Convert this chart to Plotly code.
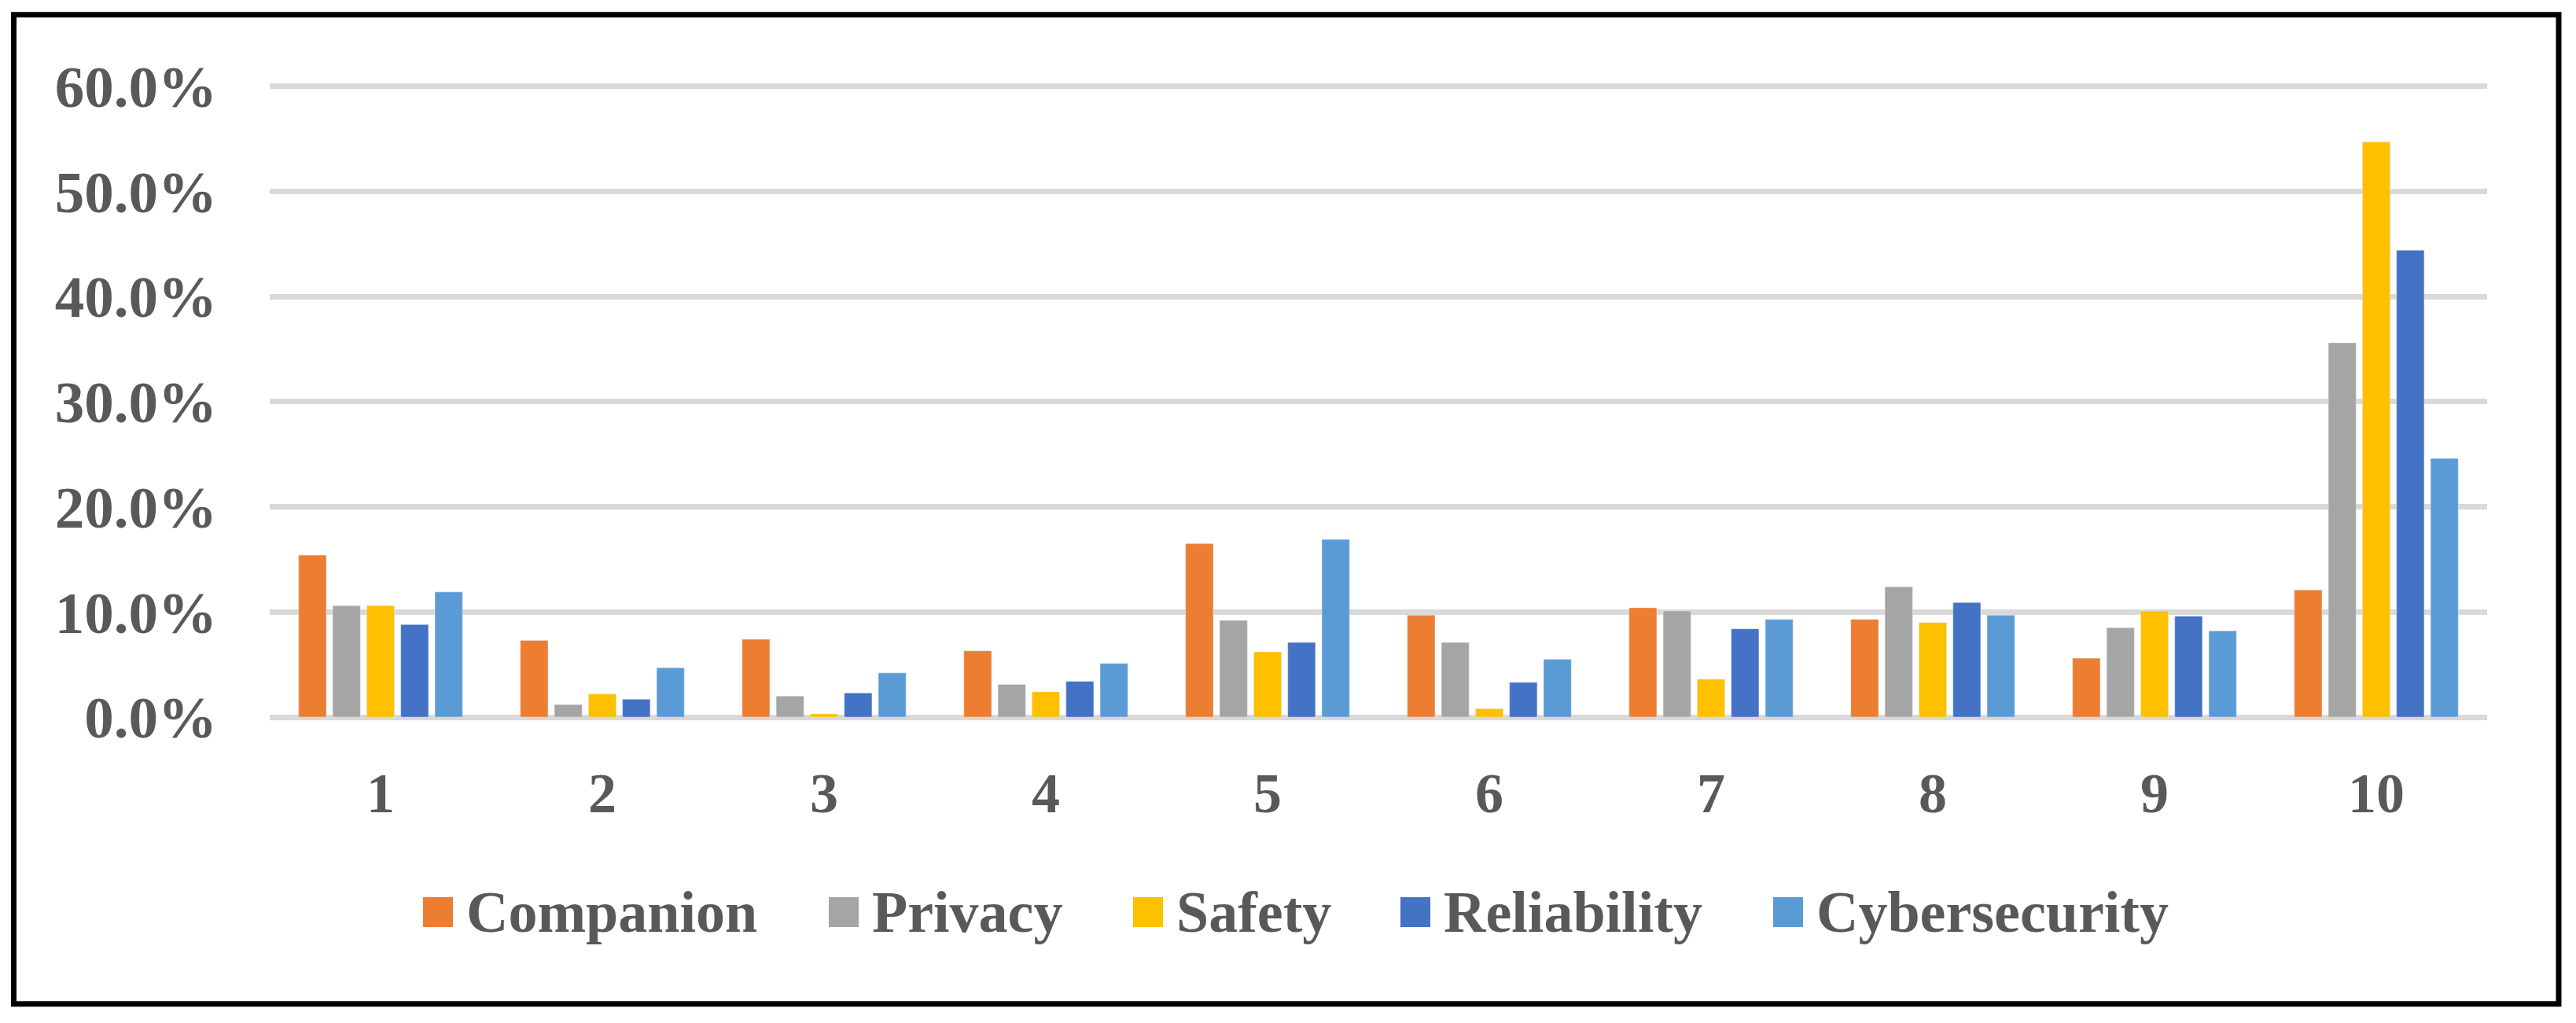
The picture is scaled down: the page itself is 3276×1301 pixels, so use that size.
import plotly.graph_objects as go

# categories and series (share of responses)
categories = ["1", "2", "3", "4", "5", "6", "7", "8", "9", "10"]

companion = [0.154, 0.073, 0.074, 0.063, 0.165, 0.097, 0.104, 0.093, 0.056, 0.121]
privacy = [0.106, 0.012, 0.020, 0.031, 0.092, 0.071, 0.101, 0.124, 0.085, 0.356]
safety = [0.106, 0.022, 0.003, 0.024, 0.062, 0.008, 0.036, 0.090, 0.101, 0.547]
reliability = [0.088, 0.017, 0.023, 0.034, 0.071, 0.033, 0.084, 0.109, 0.096, 0.444]
cybersecurity = [0.119, 0.047, 0.042, 0.051, 0.169, 0.055, 0.093, 0.097, 0.082, 0.246]

series_names = ["Companion", "Privacy", "Safety", "Reliability", "Cybersecurity"]
series_values = [companion, privacy, safety, reliability, cybersecurity]
colors = ["#ED7D31", "#A5A5A5", "#FFC000", "#4472C4", "#5B9BD5"]

# page has an 8px body margin, so work in shifted pixel coordinates
OFF = 8
W, H = 3276 - OFF, 1301 - OFF
x_left, x_right = 343 - OFF, 3163 - OFF      # plot area in page px
y_zero, y_top = 912 - OFF, 110 - OFF          # pixel rows of 0% and 60%
ymax = 0.602                                   # a hair above 60% so the top grid line shows
px_per_unit = (y_zero - y_top) / 0.6
ml, mr = x_left, W - x_right
mb = H - y_zero
mt = y_zero - ymax * px_per_unit
pw, ph = W - ml - mr, H - mt - mb

font_family = "Liberation Serif"
text_col = "#595959"


def px2x(px):
    return (px - OFF - ml) / pw


def py2y(py):
    return (H - mb - (py - OFF)) / ph


fig = go.Figure()
for name, vals, col in zip(series_names, series_values, colors):
    fig.add_trace(go.Bar(x=categories, y=vals, name=name, marker_color=col,
                         showlegend=False))

# outer black frame
fig.add_shape(type="rect", xref="paper", yref="paper",
              x0=px2x(17.5), x1=px2x(3254), y0=py2y(1276.5), y1=py2y(19),
              line=dict(color="black", width=7), fillcolor="rgba(0,0,0,0)")

# legend row: square swatch + bold label per series
legend_x = [538, 1054, 1441, 1781, 2255]
legend_y = 1160
sw = 38
for name, col, lx in zip(series_names, colors, legend_x):
    fig.add_shape(type="rect", xref="paper", yref="paper",
                  x0=px2x(lx), x1=px2x(lx + sw),
                  y0=py2y(legend_y + sw / 2), y1=py2y(legend_y - sw / 2),
                  line=dict(width=0), fillcolor=col)
    fig.add_annotation(xref="paper", yref="paper", x=px2x(lx + 53), y=py2y(legend_y),
                       xanchor="left", yanchor="middle", showarrow=False, text=name,
                       font=dict(size=74, family=font_family, color=text_col, weight="bold"))

fig.update_layout(
    width=W, height=H,
    margin=dict(l=ml, r=mr, t=mt, b=mb, pad=0),
    paper_bgcolor="white", plot_bgcolor="white",
    barmode="group", bargap=0.232, bargroupgap=0.187,
    font=dict(family=font_family, color=text_col, size=72),
    showlegend=False,
    xaxis=dict(showgrid=False, showline=False, ticks="",
               tickfont=dict(size=72, weight="bold"), ticklabelstandoff=48),
    yaxis=dict(range=[0, ymax], tickvals=[0, 0.1, 0.2, 0.3, 0.4, 0.5, 0.6],
               tickformat=".1%", showgrid=True, gridcolor="#D9D9D9", gridwidth=6.5,
               zeroline=True, zerolinecolor="#D9D9D9", zerolinewidth=6.5,
               showline=False, ticks="", tickfont=dict(size=75, weight="bold"),
               ticklabelstandoff=66),
)

fig.write_html("out.html")
